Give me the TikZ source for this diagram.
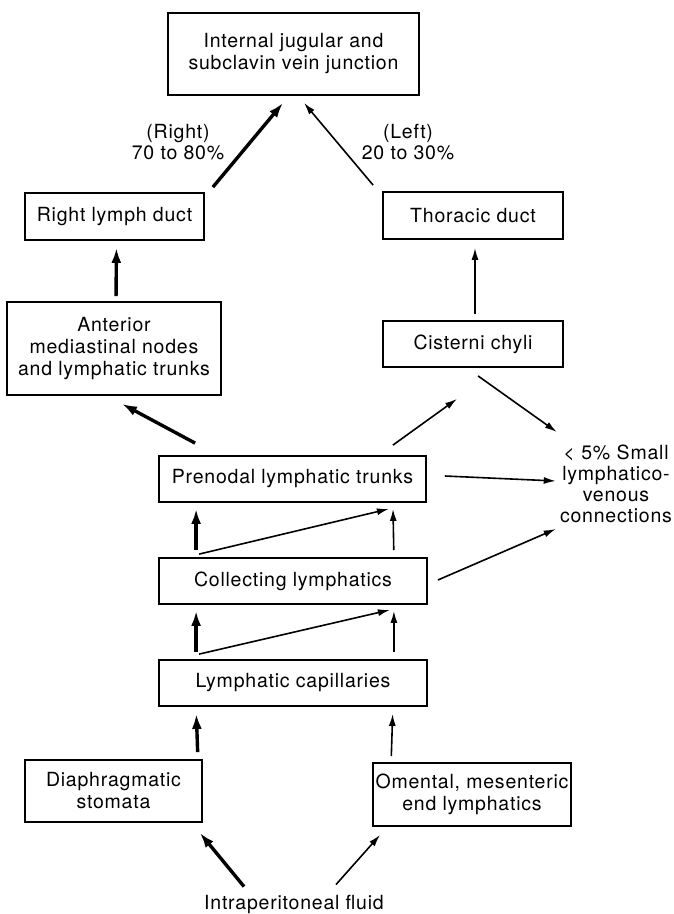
\documentclass[tikz,border=0pt]{standalone}
\usepackage{fontspec}
\setmainfont{TeX Gyre Heros}[LetterSpace=4]
\usetikzlibrary{arrows.meta,positioning}
\tikzset{every picture/.style={
  >={Latex[length=12pt,width=7pt]}      % Filled arrow heads.
  }
}

\begin{document}
\begin{tikzpicture}[x=1pt,y=-1pt,
  box/.style={draw,line width=1.8pt,align=center,inner sep=0pt,
    font=\fontsize{19.5}{22}\selectfont},
  txt/.style={align=center,inner sep=0pt,font=\fontsize{19.5}{21}\selectfont},
  heavy/.style={->,line width=3.4pt,>={Latex[length=15pt,width=10pt]}},
  light/.style={->,line width=1.6pt}]
  \useasboundingbox (0,0) rectangle (673,914);
  \node[box,minimum width=251pt,minimum height=82pt] (junction) at (293.5,54)
    {Internal jugular and\\subclavin vein junction};
  \node[box,minimum width=179pt,minimum height=47pt] (rduct) at (114.5,216.5) {Right lymph duct};
  \node[box,minimum width=180pt,minimum height=47pt] (tduct) at (473,215.5) {Thoracic duct};
  \node[box,minimum width=214pt,minimum height=93pt] (ant) at (114,348.5)
    {Anterior\\mediastinal nodes\\and lymphatic trunks};
  \node[box,minimum width=180pt,minimum height=46pt] (cist) at (473,344) {Cisterni chyli};
  \node[box,minimum width=267pt,minimum height=46pt] (pren) at (292.5,479) {Prenodal lymphatic trunks};
  \node[box,minimum width=268pt,minimum height=46pt] (coll) at (293,581) {Collecting lymphatics};
  \node[box,minimum width=268pt,minimum height=46pt] (cap) at (293,683) {Lymphatic capillaries};
  \node[box,minimum width=177pt,minimum height=62pt] (diaph) at (113.5,791) {Diaphragmatic\\stomata};
  \node[box,minimum width=198pt,minimum height=63pt] (oment) at (472,794.5)
    {Omental, mesenteric\\end lymphatics};
  \node[txt,text width=112pt] (small) at (616,484)
    {< 5\% Small\\lymphatico-\\venous\\connections};
  \node[txt] (fluid) at (294,904) {Intraperitoneal fluid};
  \node[txt] (rlabel) at (178,142) {(Right)\\70 to 80\%};
  \node[txt] (llabel) at (408,142) {(Left)\\20 to 30\%};

  \draw[heavy] ([xshift=8pt,yshift=5pt]rduct.north east) -- ([xshift=-10.5pt,yshift=-7pt]junction.south);
  \draw[light] ([xshift=-9pt,yshift=6pt]tduct.north west) -- ([xshift=10.5pt,yshift=-7pt]junction.south);
  \draw[heavy,shorten <=5pt,shorten >=7pt] ([xshift=2pt]ant.north) -- ([xshift=2pt]rduct.south);
  \draw[light,shorten <=6pt,shorten >=8pt] ([xshift=2pt]cist.north) -- ([xshift=2pt]tduct.south);
  \draw[heavy] ([xshift=37pt,yshift=12pt]pren.north west) -- ([xshift=8pt,yshift=-8pt]ant.south);
  \draw[light] ([xshift=-34pt,yshift=10pt]pren.north east) -- ([xshift=-16pt,yshift=-31pt]cist.south);
  \draw[light] ([xshift=5pt,yshift=-8pt]cist.south) -- ([xshift=-3pt,yshift=52pt]small.west);
  \draw[light] ([xshift=18pt,yshift=3pt]pren.east) -- ([xshift=-4pt,yshift=3pt]small.west);
  \draw[light] ([xshift=10pt,yshift=1pt]coll.east) -- ([xshift=-4pt,yshift=-45pt]small.west);

  \draw[heavy,shorten <=7pt,shorten >=6pt] ([xshift=38pt]coll.north west) -- ([xshift=38pt]pren.south west);
  \draw[light,shorten <=7pt,shorten >=6pt] ([xshift=-34pt]coll.north east) -- ([xshift=-34pt]pren.south east);
  \draw[light] ([xshift=41pt,yshift=3pt]coll.north west) -- ([xshift=-38pt,yshift=-6pt]pren.south east);
  \draw[heavy,shorten <=7pt,shorten >=6pt] ([xshift=38pt]cap.north west) -- ([xshift=38pt]coll.south west);
  \draw[light,shorten <=7pt,shorten >=6pt] ([xshift=-34pt]cap.north east) -- ([xshift=-34pt]coll.south east);
  \draw[light] ([xshift=41pt,yshift=5pt]cap.north west) -- ([xshift=-38pt,yshift=-5pt]coll.south east);
  \draw[heavy,shorten <=7pt,shorten >=7pt] ([xshift=-5pt]diaph.north east) -- ([xshift=38pt]cap.south west);
  \draw[light,shorten <=6pt,shorten >=7pt] ([xshift=19pt]oment.north west) -- ([xshift=-35pt]cap.south east);
  \draw[heavy] ([xshift=-50pt,yshift=8pt]fluid.north) -- ([xshift=-3pt,yshift=-10pt]diaph.south east);
  \draw[light] ([xshift=42pt,yshift=10pt]fluid.north) -- ([xshift=8pt,yshift=-8pt]oment.south west);
\end{tikzpicture}
\end{document}
